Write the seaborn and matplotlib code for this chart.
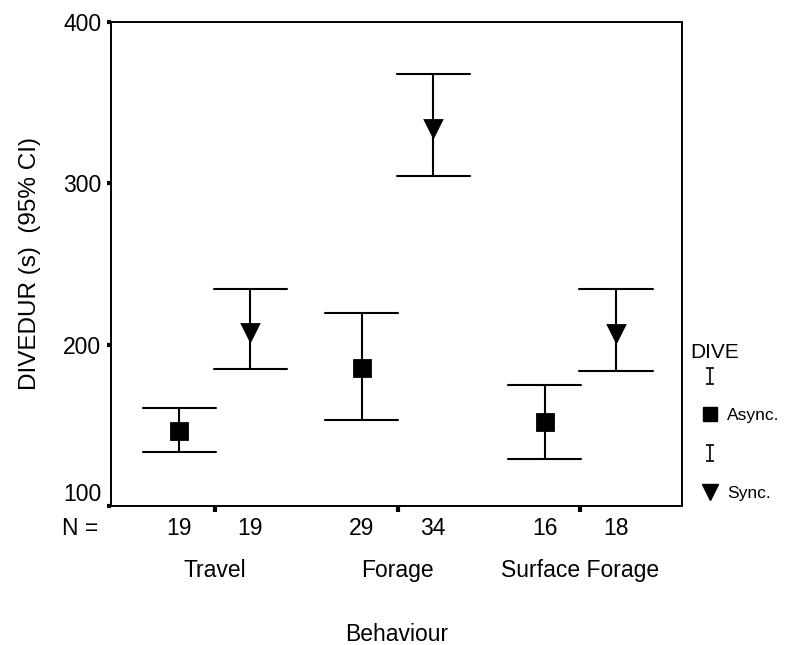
import numpy as np
import pandas as pd
import matplotlib
matplotlib.use('Agg')
import matplotlib.pyplot as plt
import seaborn as sns
from matplotlib.lines import Line2D
from matplotlib.path import Path

# --- data (mean and 95% CI of dive duration, s) ---
behaviours = ['Travel', 'Forage', 'Surface Forage']
dive_types = ['Async.', 'Sync.']

async_mean = [146.5, 185.6, 152.1]
async_low = [133.5, 153.3, 129.1]
async_high = [160.8, 219.7, 175.0]
async_n = [19, 29, 16]

sync_mean = [207.9, 334.3, 207.3]
sync_low = [184.9, 304.6, 183.7]
sync_high = [234.5, 367.8, 234.5]
sync_n = [19, 34, 18]

# long form: one row each for low, mean and high -> median gives the mean,
# min/max give the CI ends
rows = []
for dive, lo, mid, hi in [('Async.', async_low, async_mean, async_high),
                          ('Sync.', sync_low, sync_mean, sync_high)]:
    for i, b in enumerate(behaviours):
        for v in (lo[i], mid[i], hi[i]):
            rows.append({'Behaviour': b, 'DIVE': dive, 'DIVEDUR': v})
df = pd.DataFrame(rows)

# --- plot ---
sns.set_style('ticks')
plt.rcParams['font.family'] = ['Liberation Sans', 'DejaVu Sans']
plt.rcParams['text.color'] = 'black'
plt.rcParams['axes.labelcolor'] = 'black'
plt.rcParams['xtick.color'] = 'black'
plt.rcParams['ytick.color'] = 'black'

fig = plt.figure(figsize=(7.95, 6.45), dpi=100)
ax = fig.add_axes([0.1396, 0.2155, 0.7184, 0.7505])

dodge = 0.39
sns.pointplot(data=df, x='Behaviour', y='DIVEDUR', hue='DIVE',
              order=behaviours, hue_order=dive_types,
              palette=['black', 'black'], markers=['s', 'v'],
              estimator='median', errorbar=lambda v: (v.min(), v.max()),
              dodge=dodge, linestyle='none', capsize=0.4,
              err_kws={'linewidth': 1.5}, markersize=11.5,
              legend=False, ax=ax)

fs = 16.5
ax.set_ylim(100, 400)
ax.set_yticks([100, 200, 300, 400])
ax.set_xlim(-0.568, 2.557)
ax.set_ylabel('DIVEDUR (s)  (95% CI)', fontsize=17.5, labelpad=16)
ax.set_xlabel('Behaviour', fontsize=fs, labelpad=30)
ax.tick_params(axis='y', labelsize=fs, length=3, width=3, pad=4)
ax.tick_params(axis='x', labelsize=fs, length=4, width=3, pad=34)
# lowest y label sits just above the axis, as in the original
ax.get_yticklabels()[0].set_va('bottom')
for s in ax.spines.values():
    s.set_visible(True)
    s.set_linewidth(1.4)
    s.set_color('black')

# N counts under each point
offs = np.array([-dodge / 2, dodge / 2])
for i in range(len(behaviours)):
    for off, n in zip(offs, [async_n[i], sync_n[i]]):
        ax.annotate(str(n), xy=(i + off, 0), xycoords=('data', 'axes fraction'),
                    xytext=(0, -16), textcoords='offset points',
                    ha='center', va='center', fontsize=fs)
ax.annotate('N =', xy=(0, 0), xycoords='axes fraction', xytext=(-22, -16),
            textcoords='offset points', ha='center', va='center', fontsize=fs)

# legend: error bar icon + marker for each dive type
ibar = Path([(-0.5, -1), (0.5, -1), (0, -1), (0, 1), (-0.5, 1), (0.5, 1)],
            [Path.MOVETO, Path.LINETO, Path.MOVETO, Path.LINETO, Path.MOVETO, Path.LINETO])
handles = [
    Line2D([], [], linestyle='none', marker=ibar, markersize=11, color='black',
           markerfacecolor='none', markeredgewidth=1.2),
    Line2D([], [], linestyle='none', marker='s', markersize=10, color='black'),
    Line2D([], [], linestyle='none', marker=ibar, markersize=11, color='black',
           markerfacecolor='none', markeredgewidth=1.2),
    Line2D([], [], linestyle='none', marker='v', markersize=12, color='black'),
]
fig.legend(handles, ['', 'Async.', '', 'Sync.'], loc='upper left',
           bbox_to_anchor=(0.862, 0.451), frameon=False, fontsize=12.5,
           handlelength=1.0, handletextpad=0.5, labelspacing=1.35)
fig.text(0.868, 0.454, 'DIVE', fontsize=15, ha='left', va='center')

fig.savefig('out.png', dpi=100)
